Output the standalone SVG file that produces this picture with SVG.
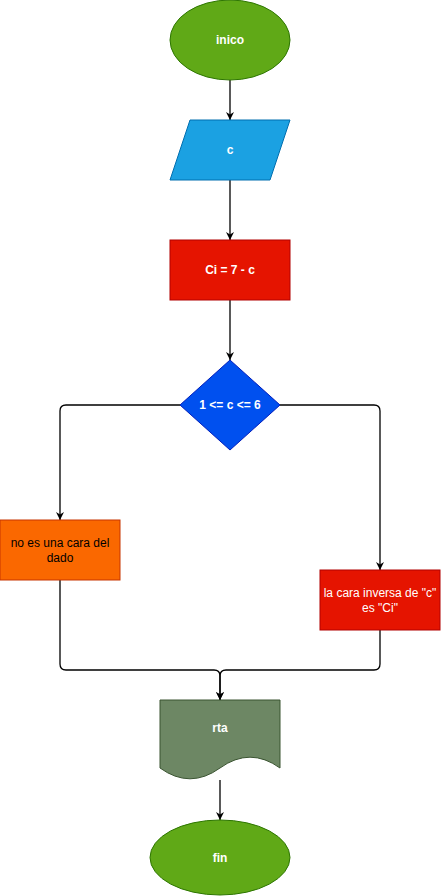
<svg xmlns="http://www.w3.org/2000/svg" width="441" height="896" viewBox="0 0 441 896">
<style>
text{font-family:"Liberation Sans",Arial,Helvetica,sans-serif;font-size:12px;text-anchor:middle}
.w{fill:#ffffff;font-weight:bold}
.wn{fill:#ffffff}
.k{fill:#000000}
.e{fill:none;stroke:#000000;stroke-width:1.3}
</style>
<defs>
<marker id="ah" viewBox="0 0 10 10" refX="10" refY="5" markerWidth="8" markerHeight="8" markerUnits="userSpaceOnUse" orient="auto">
<path d="M0,0 L10,5 L0,10 L3,5 Z" fill="#000000"/>
</marker>
</defs>
<g id="connectors">
<path class="e" d="M230,80 L230,120" marker-end="url(#ah)"/>
<path class="e" d="M230,180 L230,240" marker-end="url(#ah)"/>
<path class="e" d="M230,300 L230,360" marker-end="url(#ah)"/>
<path class="e" d="M180,405 L66,405 Q60,405 60,411 L60,520" marker-end="url(#ah)"/>
<path class="e" d="M280,405 L374,405 Q380,405 380,411 L380,570" marker-end="url(#ah)"/>
<path class="e" d="M60,580 L60,664 Q60,670 66,670 L214,670 Q220,670 220,676 L220,700" marker-end="url(#ah)"/>
<path class="e" d="M380,630 L380,664 Q380,670 374,670 L226,670 Q220,670 220,676 L220,700" marker-end="url(#ah)"/>
<path class="e" d="M220,780 L220,820" marker-end="url(#ah)"/>
</g>
<g id="inico">
<ellipse cx="230" cy="40" rx="60" ry="40" fill="#60a917" stroke="#2d7600"/>
<text class="w" x="230" y="44">inico</text>
</g>
<g id="c">
<polygon points="190,120 290,120 270,180 170,180" fill="#1ba1e2" stroke="#006eaf"/>
<text class="w" x="230" y="154">c</text>
</g>
<g id="ci">
<rect x="170" y="240" width="120" height="60" fill="#e51400" stroke="#b20000"/>
<text class="w" x="230" y="274">Ci = 7 - c</text>
</g>
<g id="decision">
<polygon points="230,360 280,405 230,450 180,405" fill="#0050ef" stroke="#001dbc"/>
<text class="w" x="230" y="409">1 &lt;= c &lt;= 6</text>
</g>
<g id="nocara">
<rect x="0" y="520" width="120" height="60" fill="#fa6800" stroke="#c73500"/>
<text class="k" x="60" y="547">no es una cara del</text>
<text class="k" x="60" y="562">dado</text>
</g>
<g id="inversa">
<rect x="320" y="570" width="120" height="60" fill="#e51400" stroke="#b20000"/>
<text class="wn" x="380" y="597">la cara inversa de "c"</text>
<text class="wn" x="380" y="612">es "Ci"</text>
</g>
<g id="rta">
<path d="M160,700 L280,700 L280,768 Q250,746.4 220,768 Q190,789.6 160,768 Z" fill="#6d8764" stroke="#3a5431"/>
<text class="w" x="220" y="732">rta</text>
</g>
<g id="fin">
<ellipse cx="220" cy="857.5" rx="70" ry="37.5" fill="#60a917" stroke="#2d7600"/>
<text class="w" x="220" y="862">fin</text>
</g>
</svg>
